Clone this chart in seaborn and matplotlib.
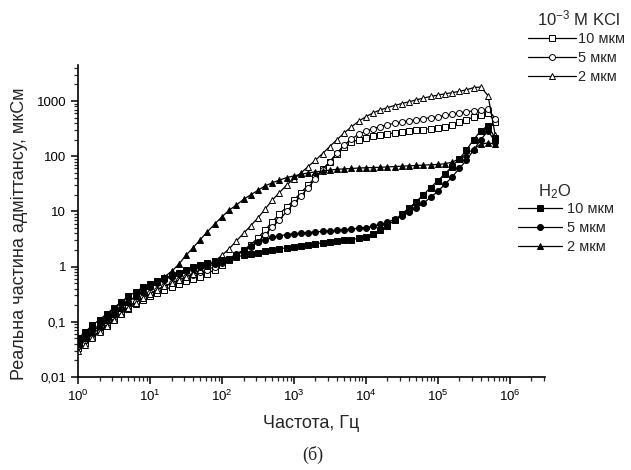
import matplotlib
matplotlib.use("Agg")
import matplotlib.pyplot as plt
import seaborn as sns
import pandas as pd
from matplotlib.ticker import FixedLocator, FixedFormatter, LogLocator, NullFormatter

sns.set_style("ticks")
plt.rcParams['font.family'] = ['Liberation Sans', 'DejaVu Sans']
plt.rcParams['mathtext.fontset'] = 'custom'
plt.rcParams['mathtext.rm'] = 'Liberation Sans'
plt.rcParams['mathtext.it'] = 'Liberation Sans:italic'

# частоти, Гц
freq = [1.0, 1.26, 1.58, 2.0, 2.51, 3.16, 3.98, 5.01, 6.31, 7.94,
        10, 12.6, 15.8, 20, 25.1, 31.6, 39.8, 50.1, 63.1, 79.4,
        100, 126, 158, 200, 251, 316, 398, 501, 631, 794,
        1e3, 1.26e3, 1.58e3, 2e3, 2.51e3, 3.16e3, 3.98e3, 5.01e3, 6.31e3, 7.94e3,
        1e4, 1.26e4, 1.58e4, 2e4, 2.51e4, 3.16e4, 3.98e4, 5.01e4, 6.31e4, 7.94e4,
        1e5, 1.26e5, 1.58e5, 2e5, 2.51e5, 3.16e5, 3.98e5, 5.01e5, 6.31e5]

# 10^-3 M KCl
kcl_10 = [0.033, 0.042, 0.054, 0.068, 0.085, 0.11, 0.14, 0.17, 0.21, 0.25,
          0.29, 0.33, 0.38, 0.43, 0.48, 0.54, 0.60, 0.66, 0.75, 0.88,
          1.05, 1.3, 1.6, 2.0, 2.5, 3.3, 4.6, 6.5, 9.0, 12,
          16, 22, 30, 42, 58, 80, 110, 150, 180, 200,
          215, 230, 242, 255, 265, 275, 285, 295, 305, 315,
          325, 345, 375, 410, 460, 510, 560, 600, 420]
kcl_5 = [0.037, 0.047, 0.060, 0.076, 0.096, 0.12, 0.15, 0.19, 0.23, 0.28,
         0.33, 0.38, 0.44, 0.50, 0.57, 0.64, 0.71, 0.79, 0.88, 1.0,
         1.15, 1.35, 1.6, 1.9, 2.3, 2.8, 3.8, 5.2, 7.0, 10,
         14, 19, 27, 39, 56, 80, 115, 160, 205, 250,
         285, 315, 345, 370, 395, 420, 440, 460, 480, 500,
         520, 550, 580, 610, 640, 665, 690, 710, 480]
kcl_2 = [0.030, 0.038, 0.050, 0.065, 0.085, 0.11, 0.14, 0.18, 0.22, 0.27,
         0.32, 0.38, 0.44, 0.50, 0.57, 0.65, 0.75, 0.87, 1.02, 1.25,
         1.6, 2.1, 2.9, 4.0, 5.5, 7.6, 11, 16, 22, 30,
         39, 50, 65, 85, 112, 150, 200, 265, 340, 430,
         520, 610, 690, 760, 830, 900, 970, 1050, 1130, 1210,
         1280, 1350, 1420, 1500, 1600, 1750, 1800, 1250, 240]

# H2O
h2o_10 = [0.050, 0.066, 0.086, 0.11, 0.14, 0.18, 0.23, 0.29, 0.35, 0.42,
          0.48, 0.54, 0.61, 0.70, 0.78, 0.88, 0.98, 1.06, 1.15, 1.24,
          1.32, 1.40, 1.50, 1.60, 1.70, 1.80, 1.92, 2.0, 2.1, 2.2,
          2.3, 2.4, 2.5, 2.6, 2.7, 2.8, 2.9, 3.0, 3.1, 3.25,
          3.5, 3.9, 4.6, 5.5, 7.0, 9.0, 11.5, 15, 20, 27,
          36, 48, 65, 90, 130, 200, 290, 360, 210]
h2o_5 = [0.042, 0.054, 0.070, 0.090, 0.115, 0.145, 0.18, 0.23, 0.29, 0.35,
         0.42, 0.50, 0.58, 0.66, 0.74, 0.82, 0.90, 0.97, 1.03, 1.1,
         1.2, 1.4, 1.7, 2.0, 2.4, 2.75, 3.1, 3.4, 3.6, 3.8,
         3.95, 4.05, 4.15, 4.25, 4.35, 4.45, 4.55, 4.65, 4.8, 4.95,
         5.1, 5.4, 5.8, 6.4, 7.2, 8.2, 9.6, 11.5, 14, 18,
         23, 31, 42, 60, 85, 130, 200, 290, 180]
h2o_2 = [0.040, 0.050, 0.065, 0.085, 0.11, 0.14, 0.18, 0.23, 0.29, 0.36,
         0.44, 0.53, 0.65, 0.82, 1.1, 1.6, 2.2, 3.1, 4.3, 5.9,
         8.0, 10.5, 13, 16.5, 20, 24, 29, 33, 37, 41,
         44, 47, 50, 52, 54, 56, 58, 59, 60, 61,
         62, 62.5, 63, 64, 65, 66, 67, 68, 69, 70,
         71, 73, 78, 90, 110, 135, 165, 175, 165]

labels = ["10 мкм", "5 мкм", "2 мкм"]
kcl_series = [kcl_10, kcl_5, kcl_2]
h2o_series = [h2o_10, h2o_5, h2o_2]
marker_list = ["s", "o", "^"]

fig = plt.figure(figsize=(6.31, 4.70), dpi=100)
ax = fig.add_axes([78 / 631, 93 / 470, 467 / 631, 312 / 470])

kcl_handles = []
for vals, lab, m in zip(kcl_series, labels, marker_list):
    df = pd.DataFrame({"freq": freq, "value": vals})
    sns.lineplot(data=df, x="freq", y="value", ax=ax, color="black", lw=0.9,
                 marker=m, markersize=4.3, markerfacecolor="white",
                 markeredgecolor="black", markeredgewidth=0.7, label=lab)
    kcl_handles.append(ax.lines[-1])

h2o_handles = []
for vals, lab, m in zip(h2o_series, labels, marker_list):
    df = pd.DataFrame({"freq": freq, "value": vals})
    sns.lineplot(data=df, x="freq", y="value", ax=ax, color="black", lw=0.9,
                 marker=m, markersize=4.3, markerfacecolor="black",
                 markeredgecolor="black", markeredgewidth=0.7, label=lab)
    h2o_handles.append(ax.lines[-1])

ax.set_xscale("log")
ax.set_yscale("log")
ax.set_xlim(1, 3.1e6)
ax.set_ylim(0.01, 4500)

ax.yaxis.set_major_locator(FixedLocator([0.01, 0.1, 1, 10, 100, 1000]))
ax.yaxis.set_major_formatter(FixedFormatter(["0,01", "0,1", "1", "10", "100", "1000"]))
ax.yaxis.set_minor_locator(LogLocator(base=10, subs=range(2, 10), numticks=20))
ax.yaxis.set_minor_formatter(NullFormatter())
ax.xaxis.set_major_locator(FixedLocator([1, 10, 100, 1e3, 1e4, 1e5, 1e6]))
ax.xaxis.set_major_formatter(FixedFormatter([r"$10^{%d}$" % k for k in range(7)]))
ax.xaxis.set_minor_locator(LogLocator(base=10, subs=range(2, 10), numticks=20))
ax.xaxis.set_minor_formatter(NullFormatter())

ax.tick_params(which="major", direction="out", length=5, width=1.1, labelsize=9.5, colors="black")
ax.tick_params(which="minor", direction="out", length=3, width=0.9)
for side in ["top", "right"]:
    ax.spines[side].set_visible(False)
for side in ["left", "bottom"]:
    ax.spines[side].set_linewidth(1.2)
    ax.spines[side].set_color("black")

ax.set_xlabel("Частота, Гц", fontsize=13, labelpad=8)
ax.set_ylabel("")
fig.text(20 / 631, 1 - 234 / 470, "Реальна частина адміттансу, мкСм", rotation=90,
         fontsize=13, ha="center", va="center")
fig.text(313 / 631, 1 - 455 / 470, "(б)", fontsize=13, family="Liberation Serif",
         ha="center", va="center")

leg1 = ax.legend(handles=kcl_handles, labels=labels, loc="upper left",
                 bbox_to_anchor=(528 / 631, 1 - 32 / 470), bbox_transform=fig.transFigure,
                 frameon=False, fontsize=10.5, handlelength=3.3, handletextpad=0.15,
                 labelspacing=0.35, borderpad=0, borderaxespad=0)
ax.add_artist(leg1)
leg2 = ax.legend(handles=h2o_handles, labels=labels, loc="upper left",
                 bbox_to_anchor=(518 / 631, 1 - 202 / 470), bbox_transform=fig.transFigure,
                 frameon=False, fontsize=10.5, handlelength=3.0, handletextpad=0.35,
                 labelspacing=0.35, borderpad=0, borderaxespad=0)

fig.text(620 / 631, 1 - 18 / 470, r"10$^{-3}$ M KCl", fontsize=12, ha="right", va="center")
fig.text(538 / 631, 1 - 196 / 470, r"H$_2$O", fontsize=12, ha="left", va="baseline")

fig.savefig("out.png", dpi=100)
